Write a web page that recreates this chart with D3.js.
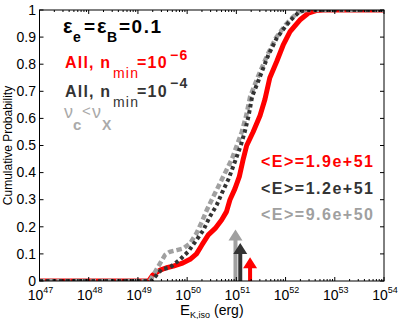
<!DOCTYPE html>
<html>
<head>
<meta charset="utf-8">
<script src="https://cdn.jsdelivr.net/npm/d3@7"></script>
<style>
  body { margin: 0; background: #fff; }
  svg { display: block; font-family: "Liberation Sans", Arial, Helvetica, sans-serif; }
</style>
</head>
<body>
<div id="chart"></div>
<script>
// CDF curves (log10 of E_K,iso vs cumulative probability)
var redLogE  = [47, 49.22, 49.3, 49.45, 49.58, 49.72, 49.89, 50.06, 50.19, 50.3, 50.43, 50.57, 50.7, 50.8, 50.87, 50.97, 51.06, 51.14, 51.21, 51.34, 51.48, 51.58, 51.68, 51.82, 51.95, 52.09, 52.29, 52.46, 52.62, 52.78, 54];
var redP     = [0, 0, 0.022, 0.04, 0.049, 0.055, 0.065, 0.08, 0.1, 0.133, 0.17, 0.194, 0.225, 0.256, 0.3, 0.34, 0.385, 0.45, 0.5, 0.55, 0.61, 0.67, 0.75, 0.81, 0.87, 0.92, 0.963, 0.988, 0.998, 1, 1];

var darkLogE = [47, 49.27, 49.38, 49.48, 49.65, 49.86, 50.02, 50.19, 50.33, 50.46, 50.6, 50.72, 50.85, 50.97, 51.09, 51.17, 51.25, 51.32, 51.45, 51.65, 51.82, 52.0, 52.1, 52.26, 52.4, 54];
var darkP    = [0, 0, 0.022, 0.043, 0.05, 0.08, 0.108, 0.151, 0.188, 0.237, 0.28, 0.33, 0.38, 0.44, 0.5, 0.55, 0.61, 0.68, 0.74, 0.834, 0.896, 0.94, 0.962, 0.99, 1, 1];

var grayLogE = [47, 49.24, 49.35, 49.45, 49.55, 49.65, 49.79, 49.92, 50.06, 50.19, 50.3, 50.4, 50.5, 50.6, 50.7, 50.8, 50.91, 51.01, 51.11, 51.2, 51.28, 51.43, 51.63, 51.8, 52.0, 52.1, 52.24, 52.36, 54];
var grayP    = [0, 0, 0.034, 0.065, 0.096, 0.108, 0.114, 0.12, 0.139, 0.176, 0.219, 0.262, 0.3, 0.336, 0.373, 0.41, 0.45, 0.5, 0.55, 0.61, 0.68, 0.75, 0.834, 0.896, 0.945, 0.965, 0.99, 1, 1];

// mean energies (arrows) and arrow heights
var meanE     = [9.6e50, 1.2e51, 1.9e51];
var meanLabel = ["<E>=9.6e+50", "<E>=1.2e+51", "<E>=1.9e+51"];
var arrowP    = [0.19, 0.14, 0.088];

var xDecades = [47, 48, 49, 50, 51, 52, 53, 54];
var yTicks   = [0, 0.1, 0.2, 0.3, 0.4, 0.5, 0.6, 0.7, 0.8, 0.9, 1];

var RED = "#ff0000", DARK = "#333333", GRAY = "#a0a0a0";

var W = 399, H = 319;
var box = { left: 39.5, right: 384, top: 10, bottom: 281 };

var svg = d3.select("#chart").append("svg").attr("width", W).attr("height", H);

var x = d3.scaleLog().domain([1e47, 1e54]).range([box.left, box.right]);
var y = d3.scaleLinear().domain([0, 1]).range([box.bottom, box.top]);

svg.append("clipPath").attr("id", "plotclip")
    .append("rect")
    .attr("x", box.left).attr("y", box.top)
    .attr("width", box.right - box.left).attr("height", box.bottom - box.top);

var line = d3.line()
    .x(function (d) { return x(Math.pow(10, d[0])); })
    .y(function (d) { return y(d[1]); });

function pairs(a, b) { return a.map(function (v, i) { return [v, b[i]]; }); }

var curves = svg.append("g").attr("clip-path", "url(#plotclip)");
curves.append("path").datum(pairs(redLogE, redP))
    .attr("d", line).attr("fill", "none").attr("stroke", RED)
    .attr("stroke-width", 5).attr("stroke-linejoin", "round");
curves.append("path").datum(pairs(grayLogE, grayP))
    .attr("d", line).attr("fill", "none").attr("stroke", GRAY)
    .attr("stroke-width", 4.5).attr("stroke-dasharray", "5.5,3");
curves.append("path").datum(pairs(darkLogE, darkP))
    .attr("d", line).attr("fill", "none").attr("stroke", DARK)
    .attr("stroke-width", 4).attr("stroke-dasharray", "3.5,3");

// arrows at the mean energies
var arrowColors = [GRAY, DARK, RED];
meanE.forEach(function (e, i) {
    var cx = x(e), tip = y(arrowP[i]), base = y(0);
    var p = d3.path();
    p.moveTo(cx - 2, base);
    p.lineTo(cx - 2, tip + 11);
    p.lineTo(cx - 7, tip + 11);
    p.lineTo(cx, tip);
    p.lineTo(cx + 7, tip + 11);
    p.lineTo(cx + 2, tip + 11);
    p.lineTo(cx + 2, base);
    p.closePath();
    svg.append("path").attr("d", p.toString()).attr("fill", arrowColors[i]);
});

// axes box and ticks
var ax = svg.append("g").attr("stroke", "#000").attr("stroke-width", 1).attr("fill", "none");
ax.append("rect").attr("x", box.left).attr("y", box.top)
    .attr("width", box.right - box.left).attr("height", box.bottom - box.top);

var minors = [];
xDecades.slice(0, -1).forEach(function (d) {
    for (var k = 2; k <= 9; k++) minors.push(k * Math.pow(10, d));
});
var majors = xDecades.map(function (d) { return Math.pow(10, d); });

function xTick(v, len) {
    ax.append("line").attr("x1", x(v)).attr("x2", x(v)).attr("y1", box.bottom).attr("y2", box.bottom - len);
    ax.append("line").attr("x1", x(v)).attr("x2", x(v)).attr("y1", box.top).attr("y2", box.top + len);
}
majors.forEach(function (v) { xTick(v, 4); });
minors.forEach(function (v) { xTick(v, 2); });

yTicks.forEach(function (v) {
    ax.append("line").attr("x1", box.left).attr("x2", box.left + 4).attr("y1", y(v)).attr("y2", y(v));
    ax.append("line").attr("x1", box.right).attr("x2", box.right - 4).attr("y1", y(v)).attr("y2", y(v));
});

// tick labels
svg.append("g").selectAll("text").data(yTicks).join("text")
    .attr("x", box.left - 3.5).attr("y", function (d) { return y(d); })
    .attr("dy", "0.34em").attr("text-anchor", "end")
    .attr("font-size", 14).attr("fill", "#000")
    .text(function (d) { return d3.format("~g")(d); });

var xl = svg.append("g").selectAll("text").data(xDecades).join("text")
    .attr("x", function (d) { return x(Math.pow(10, d)) + 1; })
    .attr("y", 299.5).attr("text-anchor", "middle").attr("fill", "#000");
xl.append("tspan").attr("font-size", 14).text("10");
xl.append("tspan").attr("font-size", 9).attr("dy", -6.5).text(function (d) { return d; });

// axis titles
svg.append("text")
    .attr("transform", "translate(12," + ((box.top + box.bottom) / 2) + ") rotate(-90)")
    .attr("text-anchor", "middle").attr("font-size", 12).attr("fill", "#000")
    .text("Cumulative Probability");

var xt = svg.append("text").attr("x", (box.left + box.right) / 2).attr("y", 315)
    .attr("text-anchor", "middle").attr("fill", "#000");
xt.append("tspan").attr("font-size", 15).text("E");
xt.append("tspan").attr("font-size", 9).attr("dy", 2.5).text("K,iso");
xt.append("tspan").attr("font-size", 14).attr("dy", -2.5).attr("dx", 4).text("(erg)");

// rich text helper: parts = [text, xOffset, yOffset, size, weight]
function rich(x0, y0, color, parts, spacing) {
    var t = svg.append("text").attr("fill", color).attr("letter-spacing", spacing || 0);
    parts.forEach(function (p) {
        t.append("tspan").attr("x", x0 + p[1]).attr("y", y0 + p[2])
            .attr("font-size", p[3]).attr("font-weight", p[4] || "bold").text(p[0]);
    });
}

rich(63, 32.5, "#000", [
    ["ε", 0, 0, 20], ["e", 10, 9, 14], ["=", 21, 0, 19],
    ["ε", 34, 0, 20], ["B", 44, 9, 14], ["=0.1", 56, 0, 19]
], 1.5);
rich(65, 68.3, RED, [
    ["All, n", 0, 0, 16], ["min", 48, 10, 14, "normal"], ["=10", 72, 0, 16], ["\u22126", 105, -8.5, 14]
], 1.2);
rich(65, 96.7, DARK, [
    ["All, n", 0, 0, 16], ["min", 48, 10, 14, "normal"], ["=10", 72, 0, 16], ["\u22124", 105, -8.5, 14]
], 1.2);
rich(64, 118.3, "#aaaaaa", [
    ["ν", 0, 0, 18, "normal"], ["c", 9, 12, 15], ["<", 18, -2, 15, "normal"],
    ["ν", 28, 0, 18, "normal"], ["X", 38, 12, 14]
]);

// mean labels on the right
var meanY = [220, 194, 166.7];
meanLabel.forEach(function (s, i) {
    svg.append("text").attr("x", 261).attr("y", meanY[i])
        .attr("font-size", 16).attr("font-weight", "bold")
        .attr("letter-spacing", 1.5).attr("fill", arrowColors[i]).text(s);
});
</script>
</body>
</html>
